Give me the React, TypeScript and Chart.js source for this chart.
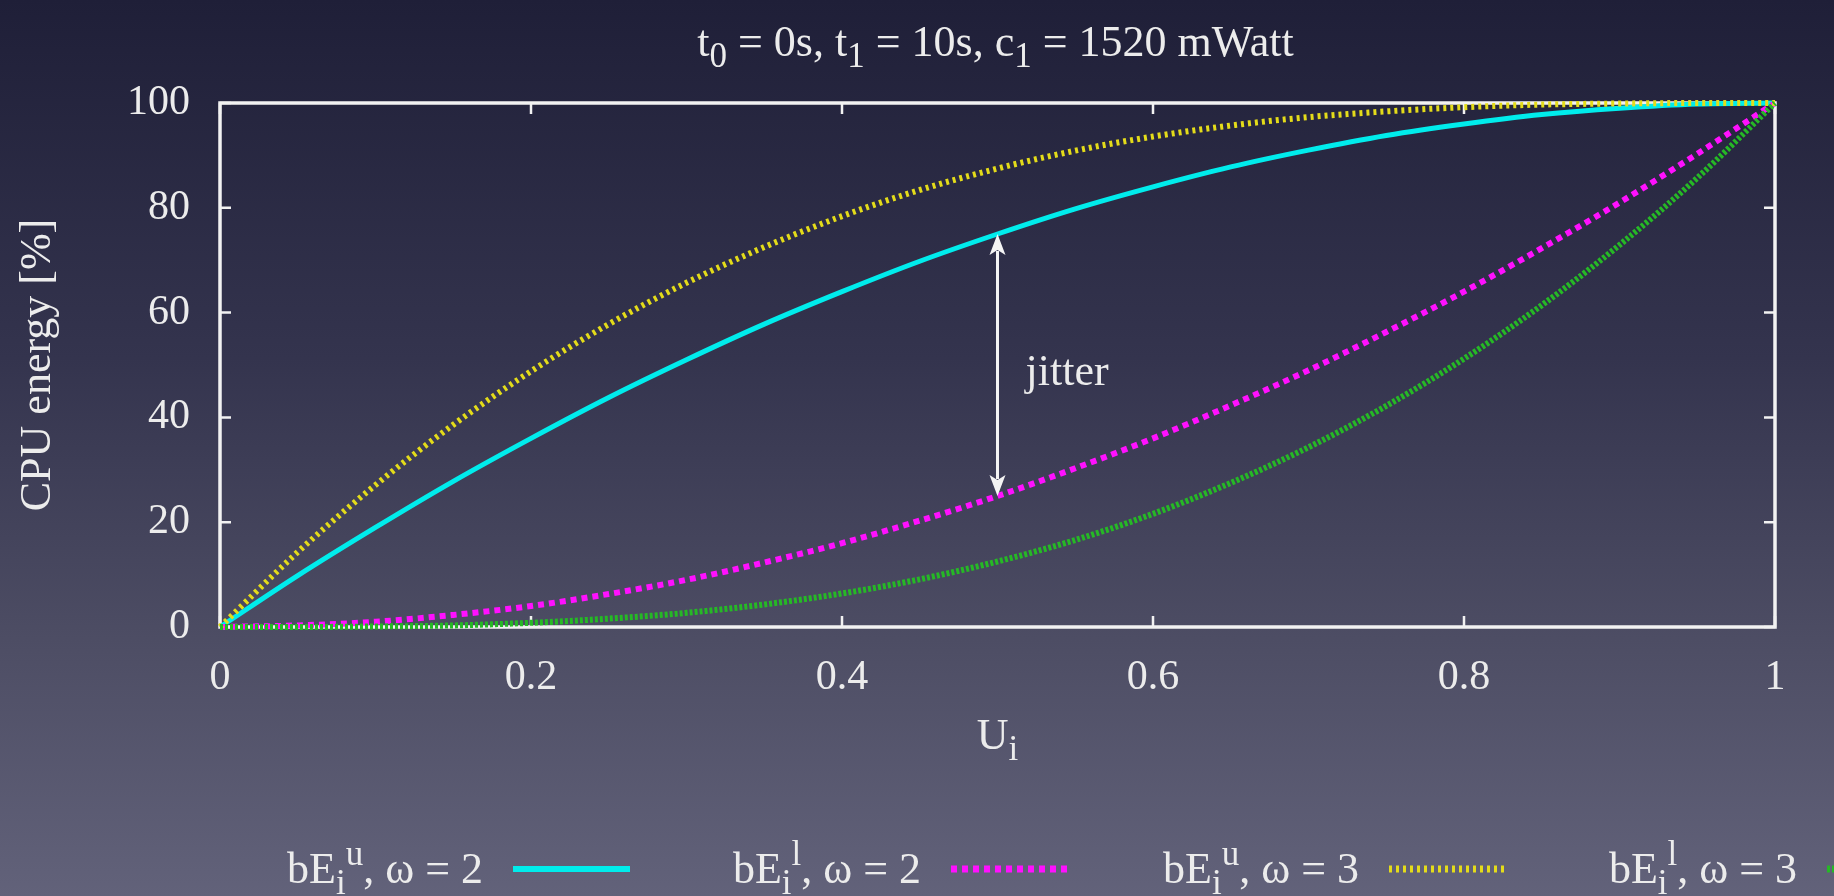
import React, { useEffect, useRef } from 'react';
import { Chart, registerables } from 'chart.js';

Chart.register(...registerables);

// Utilisation samples along the x axis
const utilization = [0, 0.05, 0.1, 0.15, 0.2, 0.25, 0.3, 0.35, 0.4, 0.45, 0.5, 0.55, 0.6, 0.65, 0.7, 0.75, 0.8, 0.85, 0.9, 0.95, 1];

// CPU energy bounds [%] for each utilisation sample
const upperW2 = [0, 9.8, 19, 27.8, 36, 43.8, 51, 57.8, 64, 69.8, 75, 79.8, 84, 87.8, 91, 93.8, 96, 97.8, 99, 99.8, 100];
const lowerW2 = [0, 0.3, 1, 2.3, 4, 6.3, 9, 12.3, 16, 20.3, 25, 30.3, 36, 42.3, 49, 56.3, 64, 72.3, 81, 90.3, 100];
const upperW3 = [0, 14.3, 27.1, 38.6, 48.8, 57.8, 65.7, 72.5, 78.4, 83.4, 87.5, 90.9, 93.6, 95.7, 97.3, 98.4, 99.2, 99.7, 99.9, 100, 100];
const lowerW3 = [0, 0, 0.1, 0.3, 0.8, 1.6, 2.7, 4.3, 6.4, 9.1, 12.5, 16.6, 21.6, 27.5, 34.3, 42.2, 51.2, 61.4, 72.9, 85.7, 100];

// Axis ranges and tick steps
const xRange = [0, 1];
const xStep = 0.2;
const yRange = [0, 100];
const yStep = 20;

// Utilisation at which the jitter span is marked
const jitterU = 0.5;

type Run = { text: string; kind?: 'sub' | 'sup' };

const titleRuns: Run[] = [
  { text: 't' }, { text: '0', kind: 'sub' }, { text: ' = 0s, t' }, { text: '1', kind: 'sub' },
  { text: ' = 10s, c' }, { text: '1', kind: 'sub' }, { text: ' = 1520 mWatt' },
];
const xTitleRuns: Run[] = [{ text: 'U' }, { text: 'i', kind: 'sub' }];
const yTitle = 'CPU energy [%]';
const jitterLabel = 'jitter';

const legendLabels: Run[][] = [
  [{ text: 'bE' }, { text: 'i', kind: 'sub' }, { text: 'u', kind: 'sup' }, { text: ', ω = 2' }],
  [{ text: 'bE' }, { text: 'i', kind: 'sub' }, { text: 'l', kind: 'sup' }, { text: ', ω = 2' }],
  [{ text: 'bE' }, { text: 'i', kind: 'sub' }, { text: 'u', kind: 'sup' }, { text: ', ω = 3' }],
  [{ text: 'bE' }, { text: 'i', kind: 'sub' }, { text: 'l', kind: 'sup' }, { text: ', ω = 3' }],
];

const SERIF = "'Liberation Serif', 'DejaVu Serif', serif";
const TEXT = '#ececec';
const FRAME = '#f2f2f2';
const FONT_SIZE = 44;

function drawRuns(ctx: CanvasRenderingContext2D, runs: Run[], x: number, y: number, align: 'left' | 'center' | 'right', size: number) {
  const fontOf = (r: Run) => `${r.kind ? Math.round(size * 0.8) : size}px ${SERIF}`;
  const widths = runs.map((r) => {
    ctx.font = fontOf(r);
    return ctx.measureText(r.text).width;
  });
  const total = widths.reduce((a, b) => a + b, 0);
  let cx = align === 'center' ? x - total / 2 : align === 'right' ? x - total : x;
  ctx.textAlign = 'left';
  ctx.textBaseline = 'alphabetic';
  runs.forEach((r, i) => {
    ctx.font = fontOf(r);
    const dy = r.kind === 'sub' ? size * 0.25 : r.kind === 'sup' ? -size * 0.42 : 0;
    ctx.fillText(r.text, cx, y + dy);
    cx += widths[i];
  });
}

const framePlugin = {
  id: 'frameTicks',
  beforeDatasetsDraw(chart: any) {
    const { ctx, chartArea, scales } = chart;
    const { left, right, top, bottom } = chartArea;
    const tickLen = 11;
    ctx.save();
    ctx.strokeStyle = FRAME;
    ctx.lineWidth = 2.5;
    ctx.beginPath();
    scales.x.ticks.forEach((t: any) => {
      const px = scales.x.getPixelForValue(t.value);
      ctx.moveTo(px, bottom);
      ctx.lineTo(px, bottom - tickLen);
      ctx.moveTo(px, top);
      ctx.lineTo(px, top + tickLen);
    });
    scales.y.ticks.forEach((t: any) => {
      const py = scales.y.getPixelForValue(t.value);
      ctx.moveTo(left, py);
      ctx.lineTo(left + tickLen, py);
      ctx.moveTo(right, py);
      ctx.lineTo(right - tickLen, py);
    });
    ctx.stroke();
    ctx.lineWidth = 3.5;
    ctx.strokeRect(left, top, right - left, bottom - top);
    ctx.restore();
  },
};

const overlayPlugin = {
  id: 'overlay',
  afterDatasetsDraw(chart: any) {
    const { ctx, chartArea, scales } = chart;
    const { left, right, bottom } = chartArea;
    const midX = (left + right) / 2;
    ctx.save();

    // jitter arrow between the two ω = 2 bounds
    const k = utilization.indexOf(jitterU);
    const ax = scales.x.getPixelForValue(jitterU);
    const yHi = scales.y.getPixelForValue(upperW2[k]);
    const yLo = scales.y.getPixelForValue(lowerW2[k]);
    const head = 21;
    ctx.strokeStyle = '#f4f4f4';
    ctx.fillStyle = '#f4f4f4';
    ctx.lineWidth = 3;
    ctx.beginPath();
    ctx.moveTo(ax, yHi + head - 4);
    ctx.lineTo(ax, yLo - head + 4);
    ctx.stroke();
    const arrowHead = (tip: number, dir: number) => {
      ctx.beginPath();
      ctx.moveTo(ax, tip);
      ctx.lineTo(ax - 8, tip + dir * head);
      ctx.lineTo(ax, tip + dir * (head - 5));
      ctx.lineTo(ax + 8, tip + dir * head);
      ctx.closePath();
      ctx.fill();
    };
    arrowHead(yHi, 1);
    arrowHead(yLo, -1);

    ctx.fillStyle = TEXT;
    ctx.font = `${FONT_SIZE}px ${SERIF}`;
    ctx.textAlign = 'left';
    ctx.textBaseline = 'middle';
    ctx.fillText(jitterLabel, ax + 28, (yHi + yLo) / 2 + 8);

    // title and x-axis title
    drawRuns(ctx, titleRuns, midX - 2, 56, 'center', FONT_SIZE);
    drawRuns(ctx, xTitleRuns, midX, bottom + 122, 'center', FONT_SIZE);

    // legend: label, then line sample
    const sampleStart = 513;
    const step = 438;
    const sampleW = 117;
    const sampleY = 869;
    chart.data.datasets.forEach((ds: any, i: number) => {
      const sx = sampleStart + i * step;
      ctx.fillStyle = TEXT;
      drawRuns(ctx, legendLabels[i], sx - 30, 883, 'right', FONT_SIZE);
      ctx.strokeStyle = ds.borderColor;
      ctx.lineWidth = ds.borderWidth + 1;
      ctx.setLineDash(ds.borderDash || []);
      ctx.beginPath();
      ctx.moveTo(sx, sampleY);
      ctx.lineTo(sx + sampleW, sampleY);
      ctx.stroke();
      ctx.setLineDash([]);
    });
    ctx.restore();
  },
};

function series(values: number[]) {
  return utilization.map((u, i) => ({ x: u, y: values[i] }));
}

export default function App() {
  const canvasRef = useRef<HTMLCanvasElement | null>(null);

  useEffect(() => {
    if (!canvasRef.current) return;
    const common = {
      pointRadius: 0,
      fill: false,
      cubicInterpolationMode: 'monotone' as const,
      clip: false as const,
      borderCapStyle: 'butt' as const,
    };
    const chart = new Chart(canvasRef.current, {
      type: 'line',
      data: {
        datasets: [
          { ...common, label: 'bE_i^u, ω = 2', data: series(upperW2), borderColor: '#00ecec', borderWidth: 5, borderDash: [], order: 4 },
          { ...common, label: 'bE_i^l, ω = 2', data: series(lowerW2), borderColor: '#ff10ff', borderWidth: 6, borderDash: [6, 5], order: 3 },
          { ...common, label: 'bE_i^u, ω = 3', data: series(upperW3), borderColor: '#e4dc1a', borderWidth: 6, borderDash: [3, 4], order: 2 },
          { ...common, label: 'bE_i^l, ω = 3', data: series(lowerW3), borderColor: '#26b826', borderWidth: 6, borderDash: [3, 2], order: 1 },
        ],
      },
      options: {
        responsive: false,
        animation: false,
        events: [],
        layout: { padding: { left: 0, top: 103, right: 59, bottom: 169 } },
        plugins: { legend: { display: false }, title: { display: false }, tooltip: { enabled: false } },
        scales: {
          x: {
            type: 'linear',
            min: xRange[0],
            max: xRange[1],
            afterFit: (s: any) => { s.height = 100; },
            grid: { display: false, drawTicks: false },
            border: { display: false },
            ticks: {
              stepSize: xStep,
              padding: 26,
              color: TEXT,
              font: { family: SERIF, size: 42 },
              maxRotation: 0,
              autoSkip: false,
              callback: (v: any) => String(Math.round(Number(v) * 10) / 10),
            },
          },
          y: {
            type: 'linear',
            min: yRange[0],
            max: yRange[1],
            afterFit: (s: any) => { s.width = 220; },
            grid: { display: false, drawTicks: false },
            border: { display: false },
            ticks: {
              stepSize: yStep,
              padding: 30,
              color: TEXT,
              font: { family: SERIF, size: 42 },
              callback: (v: any) => String(v),
            },
            title: {
              display: true,
              text: yTitle,
              color: TEXT,
              font: { family: SERIF, size: FONT_SIZE },
              padding: { top: 12, bottom: 0 },
            },
          },
        },
      },
      plugins: [framePlugin, overlayPlugin],
    });
    return () => chart.destroy();
  }, []);

  return (
    <div
      style={{
        position: 'fixed',
        left: 0,
        top: 0,
        width: 1834,
        height: 896,
        overflow: 'hidden',
        background: 'linear-gradient(180deg, #1f1f38 0%, #34344e 40%, #4c4c63 70%, #62627a 100%)',
      }}
    >
      <canvas ref={canvasRef} width={1834} height={896} style={{ display: 'block' }} />
    </div>
  );
}
